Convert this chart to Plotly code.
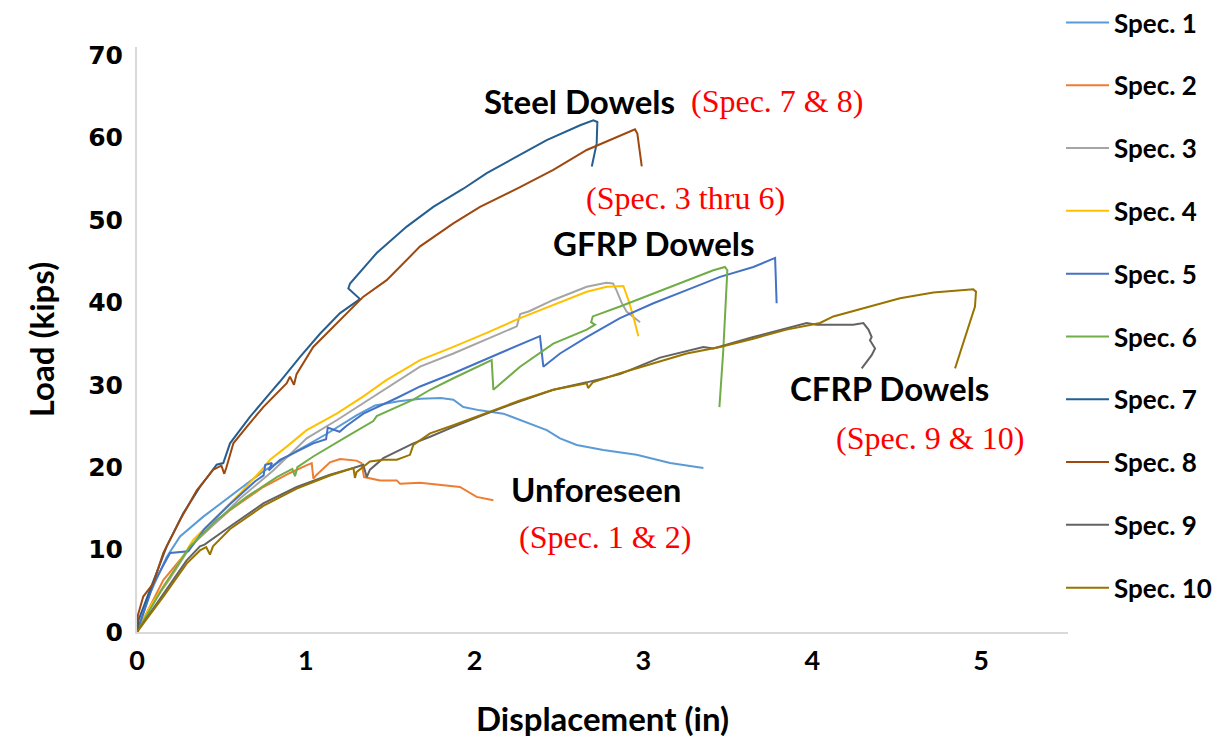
import plotly.graph_objects as go

# ---- data (displacement in, load kips) ----
names = ["Spec. 1", "Spec. 2", "Spec. 3", "Spec. 4", "Spec. 5",
         "Spec. 6", "Spec. 7", "Spec. 8", "Spec. 9", "Spec. 10"]
colors = ["#5B9BD5", "#ED7D31", "#A5A5A5", "#FFC000", "#4472C4",
          "#70AD47", "#255E91", "#9E480E", "#636363", "#997300"]

x1 = [0, 0.077, 0.176, 0.255, 0.393, 0.551, 0.748, 0.95, 1.12, 1.30, 1.41, 1.55, 1.68, 1.80, 1.874,
      1.933, 2.032, 2.170, 2.269, 2.427, 2.506, 2.605, 2.762, 2.960, 3.158, 3.355]
y1 = [0, 4.7, 9.1, 11.6, 14.0, 16.4, 19.5, 22.0, 24.0, 26.3, 27.5, 28.0, 28.3, 28.4, 28.2,
      27.3, 26.9, 26.5, 25.7, 24.5, 23.5, 22.7, 22.1, 21.5, 20.5, 19.9]

x2 = [0, 0.156, 0.354, 0.551, 0.748, 0.906, 1.00, 1.035, 1.045, 1.06, 1.143, 1.203, 1.30, 1.33,
      1.345, 1.44, 1.539, 1.558, 1.677, 1.835, 1.913, 2.012, 2.111]
y2 = [0, 6.3, 11.2, 14.8, 17.6, 19.3, 20.2, 20.5, 18.6, 19.0, 20.6, 21.0, 20.8, 20.5,
      18.8, 18.4, 18.4, 18.0, 18.1, 17.8, 17.6, 16.4, 16.0]

x3 = [0, 0.077, 0.196, 0.314, 0.452, 0.610, 0.807, 1.005, 1.183, 1.341, 1.479, 1.677, 1.874,
      2.072, 2.25, 2.27, 2.32, 2.466, 2.664, 2.78, 2.82, 2.84, 2.87, 2.90, 2.94, 2.98]
y3 = [0, 3.0, 6.5, 10.3, 13.0, 16.2, 19.6, 23.5, 25.7, 27.8, 29.6, 32.2, 33.8,
      35.5, 37.1, 38.6, 38.9, 40.3, 41.9, 42.4, 42.3, 41.5, 40.0, 38.9, 38.3, 37.6]

x4 = [0, 0.077, 0.196, 0.334, 0.472, 0.610, 0.748, 0.788, 0.887, 1.005, 1.183, 1.341, 1.479,
      1.677, 1.874, 2.072, 2.269, 2.466, 2.664, 2.783, 2.881, 2.911, 2.940, 2.970]
y4 = [0, 3.1, 6.7, 11.2, 14.0, 16.8, 19.9, 20.9, 22.5, 24.5, 26.5, 28.6, 30.6,
      33.0, 34.6, 36.3, 38.1, 39.7, 41.3, 41.9, 42.0, 40.3, 38.3, 35.9]

x5 = [0, 0.10, 0.196, 0.304, 0.40, 0.55, 0.70, 0.75, 0.76, 0.80, 0.78, 0.847, 1.044, 1.12, 1.13,
      1.20, 1.24, 1.341, 1.539, 1.677, 1.874, 2.072, 2.190, 2.387, 2.407, 2.506, 2.664, 2.861,
      3.059, 3.256, 3.454, 3.651, 3.780, 3.789]
y5 = [0, 6.0, 9.6, 9.8, 12.5, 15.5, 18.3, 19.0, 20.3, 20.5, 19.6, 20.9, 22.9, 23.4, 24.8,
      24.3, 25.0, 26.5, 28.4, 29.8, 31.4, 33.2, 34.2, 35.9, 32.2, 33.8, 35.8, 38.1,
      39.9, 41.5, 43.1, 44.3, 45.4, 39.9]

x6 = [0, 0.156, 0.314, 0.472, 0.650, 0.828, 0.92, 0.936, 0.95, 1.044, 1.242, 1.40, 1.42, 1.637,
      1.736, 1.874, 2.101, 2.111, 2.269, 2.466, 2.664, 2.713, 2.690, 2.700, 2.861, 3.059, 3.256,
      3.414, 3.483, 3.497, 3.473, 3.450]
y6 = [0, 5.5, 10.4, 13.6, 16.4, 18.8, 19.8, 18.9, 20.0, 21.3, 23.7, 25.6, 26.2, 28.2,
      29.4, 30.8, 33.0, 29.4, 32.2, 35.0, 36.7, 37.3, 37.6, 38.3, 39.5, 41.1, 42.7,
      43.9, 44.3, 43.9, 34.2, 27.3]

x7 = [0, 0.01, 0.077, 0.176, 0.274, 0.373, 0.472, 0.511, 0.551, 0.669, 0.788, 0.847, 0.966,
      1.084, 1.203, 1.321, 1.252, 1.262, 1.420, 1.598, 1.755, 1.933, 2.072, 2.229, 2.427,
      2.625, 2.703, 2.727, 2.723, 2.694]
y7 = [0, 1.5, 5.1, 10.4, 14.4, 17.6, 20.3, 20.5, 22.9, 26.1, 29.0, 30.4, 33.4,
      36.2, 38.7, 40.4, 41.7, 42.3, 46.0, 49.2, 51.6, 53.8, 55.7, 57.5, 59.7,
      61.5, 62.1, 61.9, 59.3, 56.5]

x8 = [0, 0.005, 0.037, 0.097, 0.156, 0.255, 0.354, 0.452, 0.50, 0.517, 0.53, 0.571, 0.650,
      0.748, 0.887, 0.906, 0.93, 0.945, 1.044, 1.203, 1.341, 1.479, 1.677, 1.874, 2.032,
      2.269, 2.466, 2.664, 2.822, 2.950, 2.964, 2.990]
y8 = [0, 2.0, 4.3, 5.9, 9.6, 13.6, 17.2, 19.7, 20.2, 19.2, 20.0, 22.9, 24.9,
      27.3, 30.2, 31.0, 30.0, 31.3, 34.6, 37.9, 40.7, 42.7, 46.8, 49.6, 51.6,
      54.0, 56.1, 58.5, 59.9, 61.0, 60.5, 56.5]

x9 = [0, 0.156, 0.294, 0.373, 0.40, 0.551, 0.748, 0.946, 1.143, 1.282, 1.340, 1.361, 1.380,
      1.459, 1.539, 1.637, 1.736, 1.874, 2.072, 2.269, 2.466, 2.664, 2.861, 3.059, 3.098,
      3.355, 3.414, 3.651, 3.967, 4.026, 4.243, 4.303, 4.333, 4.352, 4.342, 4.372, 4.352, 4.293]
y9 = [0, 4.7, 8.7, 10.4, 10.6, 12.8, 15.6, 17.6, 19.1, 19.9, 20.3, 18.8, 19.7,
      21.1, 21.9, 22.9, 23.7, 24.9, 26.5, 28.0, 29.4, 30.3, 31.3, 33.0, 33.3,
      34.6, 34.4, 35.8, 37.5, 37.3, 37.3, 37.5, 36.7, 35.8, 35.4, 34.4, 33.6, 32.0]

x10 = [0, 0.156, 0.294, 0.373, 0.41, 0.432, 0.45, 0.551, 0.748, 0.946, 1.143, 1.282, 1.291,
       1.30, 1.380, 1.459, 1.539, 1.617, 1.637, 1.736, 1.874, 2.072, 2.269, 2.466, 2.664,
       2.672, 2.70, 2.861, 3.059, 3.256, 3.454, 3.651, 3.848, 4.046, 4.125, 4.320, 4.520, 4.717,
       4.954, 4.970, 4.964, 4.846]
y10 = [0, 4.3, 8.3, 9.9, 10.3, 9.4, 10.4, 12.5, 15.3, 17.4, 19.0, 19.9, 18.7,
       19.4, 20.7, 20.9, 20.9, 21.5, 22.7, 24.1, 25.1, 26.6, 28.1, 29.4, 30.2,
       29.6, 30.3, 31.4, 32.6, 33.8, 34.6, 35.6, 36.7, 37.5, 38.3, 39.4, 40.5, 41.2,
       41.6, 41.3, 39.5, 32.0]

xs = [x1, x2, x3, x4, x5, x6, x7, x8, x9, x10]
ys = [y1, y2, y3, y4, y5, y6, y7, y8, y9, y10]

x_ticks = [0, 1, 2, 3, 4, 5]
y_ticks = [0, 10, 20, 30, 40, 50, 60, 70]

group_labels = ["Steel Dowels", "GFRP Dowels", "CFRP Dowels", "Unforeseen"]
group_notes = ["(Spec. 7 & 8)", "(Spec. 3 thru 6)", "(Spec. 9 & 10)", "(Spec. 1 & 2)"]

fig = go.Figure()
for i in range(len(names)):
    fig.add_trace(go.Scatter(
        x=xs[i], y=ys[i], mode="lines", name=names[i],
        legendgroup=names[i],
        line=dict(color=colors[i], width=2),
    ))

# annotation placement (data coordinates)
label_pos = [(2.62, 64.4), (3.06, 47.2), (4.46, 29.6), (2.72, 17.4)]
note_pos = [(3.79, 64.4), (3.25, 52.7), (4.70, 23.5), (2.77, 11.5)]

for (lx, ly), t in zip(label_pos, group_labels):
    fig.add_annotation(x=lx, y=ly, text=t, showarrow=False, xref="x", yref="y",
                       font=dict(family="Lato", size=33, color="black", weight="bold"))
for (nx, ny), t in zip(note_pos, group_notes):
    fig.add_annotation(x=nx, y=ny, text=t, showarrow=False, xref="x", yref="y",
                       font=dict(family="Liberation Serif", size=32, color="#FF0000"))

# the page body adds an 8 px offset, so the figure is 8 px smaller on each side
W, H = 1213, 737
fig.update_layout(
    width=W, height=H,
    paper_bgcolor="white", plot_bgcolor="white",
    margin=dict(l=129, r=153, t=39, b=113, autoexpand=False),
    showlegend=True,
    legend=dict(
        xref="container", yref="paper", x=1053 / W, y=1.082,
        xanchor="left", yanchor="top", maxheight=H,
        font=dict(family="Lato", size=26, color="black", weight="bold"),
        itemwidth=43, tracegroupgap=26, bgcolor="rgba(0,0,0,0)",
    ),
    xaxis=dict(
        range=[0, 5.515], tickvals=x_ticks, showgrid=False, zeroline=False,
        showline=True, linecolor="#D9D9D9", linewidth=2, ticks="", automargin=False,
        tickfont=dict(family="Lato", size=27, color="black", weight="bold"),
        ticklabelstandoff=4,
        title=dict(text="Displacement (in)", standoff=32,
                   font=dict(family="Lato", size=33, color="black", weight="bold")),
    ),
    yaxis=dict(
        range=[0, 71], tickvals=y_ticks, showgrid=False, zeroline=False,
        showline=True, linecolor="#D9D9D9", linewidth=2, ticks="", automargin=False,
        tickfont=dict(family="DejaVu Sans", size=25, color="black", weight="bold"),
        ticklabelstandoff=7,
        title=dict(text="Load (kips)", standoff=24,
                   font=dict(family="Lato", size=33, color="black", weight="bold")),
    ),
)

fig.write_html("out.html")
